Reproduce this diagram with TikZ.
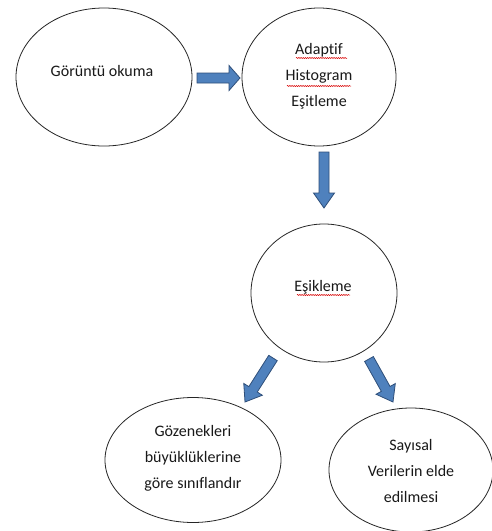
\documentclass[tikz,border=0pt]{standalone}
\usepackage{fontspec}
\setmainfont{Carlito}[Ligatures=NoCommon]
\usetikzlibrary{shapes.geometric,calc,decorations.pathmorphing}
\definecolor{arrowfill}{HTML}{4F81BD}
\definecolor{arrowline}{HTML}{2F4F7A}
\tikzset{
  el/.style={ellipse, draw=black!85, line width=0.8pt, inner sep=0pt},
  txt/.style={align=center, font=\fontsize{16}{26}\selectfont, text=black!90},
  spell/.style={draw=red!85!black, line width=0.5pt, decorate,
    decoration={snake, amplitude=0.6pt, segment length=2.2pt}},
  blockarrow/.style={draw=arrowline, fill=arrowfill, line width=0.8pt, line join=miter}
}
% #1 start, #2 end, #3 shaft half width, #4 head half width, #5 head length
\newcommand{\blockarrow}[5]{%
  \path let \p1=($(#2)-(#1)$), \n1={atan2(\y1,\x1)}, \n2={veclen(\x1,\y1)} in
    [blockarrow, shift={(#1)}, rotate=\n1]
    (0pt,-#3) -- ({\n2*1pt-#5},-#3) -- ({\n2*1pt-#5},-#4) -- ({\n2*1pt},0pt)
    -- ({\n2*1pt-#5},#4) -- ({\n2*1pt-#5},#3) -- (0pt,#3) -- cycle;
}
\begin{document}
\begin{tikzpicture}[x=1pt,y=-1pt]
\useasboundingbox (0,0) rectangle (492,531);
\fill[white] (0,0) rectangle (492,531);

% ellipses
\node[el, minimum width=176pt, minimum height=138pt] (e1) at (104,77) {};
\node[el, minimum width=154pt, minimum height=138pt] (e2) at (319,77) {};
\node[el, minimum width=146pt, minimum height=138pt] (e3) at (324,293) {};
\node[el, minimum width=176pt, minimum height=125pt] (e4) at (193,460) {};
\node[el, minimum width=164pt, minimum height=124pt] (e5) at (411,470) {};

% texts
\node[txt] (t1) at (102,71) {Görüntü okuma};
\node[txt] (t2) at (319,76) {Adaptif\\Histogram\\Eşitleme};
\node[txt] (t3) at (323,287) {Eşikleme};
\node[txt] (t4) at (193,458) {Gözenekleri\\büyüklüklerine\\göre sınıflandır};
\node[txt] (t5) at (411,471) {Sayısal\\Verilerin elde\\edilmesi};

% spell-check underlines
\coordinate (u1a) at (296,58);  \coordinate (u1b) at (347,58);
\coordinate (u2a) at (287,86);  \coordinate (u2b) at (351,86);
\coordinate (u3a) at (297,295); \coordinate (u3b) at (350,295);
\draw[spell] (u1a) -- (u1b);
\draw[spell] (u2a) -- (u2b);
\draw[spell] (u3a) -- (u3b);

% arrow end points
\coordinate (a1s) at (197,78);
\coordinate (a1e) at (240,78);
\coordinate (a2s) at (324,152);
\coordinate (a2e) at (324,208);
\coordinate (a3s) at (273,358);
\coordinate (a3e) at (245,402);
\coordinate (a4s) at (369,359);
\coordinate (a4e) at (393,402);

\blockarrow{a1s}{a1e}{5pt}{12.5pt}{11pt}
\blockarrow{a2s}{a2e}{5pt}{10.5pt}{15pt}
\blockarrow{a3s}{a3e}{5pt}{11pt}{15pt}
\blockarrow{a4s}{a4e}{5pt}{11pt}{15pt}
\end{tikzpicture}
\end{document}
